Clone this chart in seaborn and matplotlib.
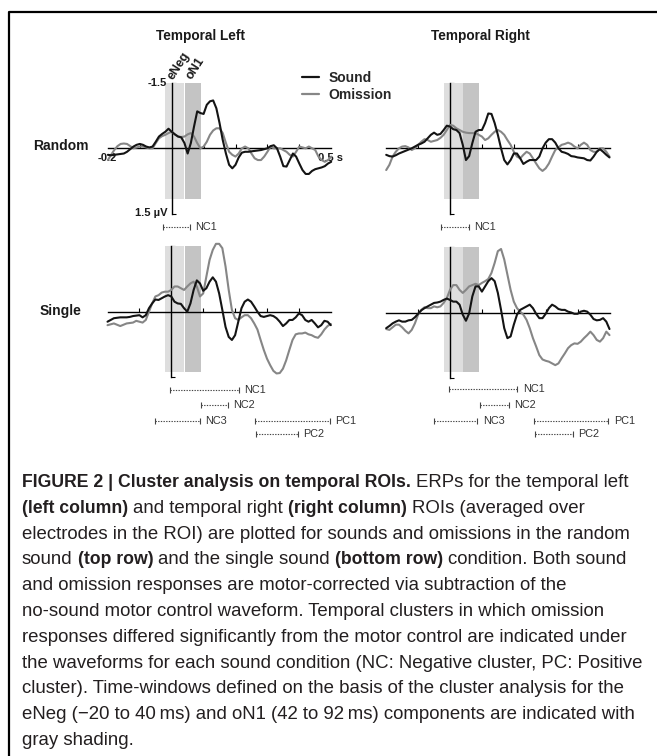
import numpy as np
import pandas as pd
import matplotlib
matplotlib.use("Agg")
import matplotlib.pyplot as plt
import seaborn as sns
from matplotlib.lines import Line2D

# ---------------- data ----------------
TIME_S = np.round(np.arange(-0.20, 0.5001, 0.01), 2)   # 71 samples, -0.2 .. 0.5 s

# Temporal Left / Random
TL_SOUND = [0.15, 0.16, 0.15, 0.14, 0.13, 0.12, 0.08, 0.02, -0.04, -0.08,
            -0.10, -0.08, -0.04, -0.02, -0.04, -0.15, -0.27, -0.33, -0.38, -0.45,
            -0.38, -0.32, -0.27, -0.25, -0.12, 0.12, -0.12, -0.50, -0.85, -0.81,
            -0.79, -1.00, -1.08, -1.10, -0.92, -0.58, -0.19, 0.12, 0.38, 0.46,
            0.38, 0.21, 0.10, 0.08, 0.08, 0.07, 0.06, 0.05, 0.04, 0.02,
            0.00, -0.05, -0.07, 0.00, 0.19, 0.41, 0.42, 0.27, 0.12, 0.19,
            0.35, 0.50, 0.59, 0.59, 0.52, 0.48, 0.46, 0.44, 0.41, 0.35, 0.31]
TL_OMIS = [0.27, 0.15, 0.04, -0.05, -0.10, -0.11, -0.10, -0.05, 0.00, -0.02,
           -0.04, -0.04, -0.02, 0.00, 0.00, -0.12, -0.23, -0.28, -0.31, -0.35,
           -0.38, -0.32, -0.27, -0.26, -0.27, -0.32, -0.35, -0.27, -0.12, 0.00,
           -0.04, -0.15, -0.31, -0.41, -0.46, -0.46, -0.35, -0.12, 0.08, 0.15,
           0.19, 0.12, 0.00, -0.04, 0.00, 0.12, 0.23, 0.27, 0.27, 0.19,
           0.08, -0.04, 0.00, 0.00, 0.00, 0.04, 0.08, 0.15, 0.19, 0.08,
           -0.04, -0.02, 0.00, -0.04, 0.00, 0.04, 0.19, 0.27, 0.31, 0.27, 0.19]
# Temporal Right / Random
TR_SOUND = [0.15, 0.18, 0.19, 0.16, 0.12, 0.09, 0.06, 0.03, 0.00, -0.04,
            -0.08, -0.11, -0.15, -0.23, -0.31, -0.36, -0.31, -0.33, -0.42, -0.52,
            -0.50, -0.44, -0.42, -0.35, -0.08, 0.27, 0.18, -0.12, -0.38, -0.42,
            -0.42, -0.58, -0.80, -0.79, -0.58, -0.31, 0.00, 0.27, 0.37, 0.27,
            0.12, 0.12, 0.23, 0.36, 0.31, 0.27, 0.27, 0.27, 0.19, 0.00,
            -0.13, -0.21, -0.21, -0.13, 0.00, 0.08, 0.10, 0.13, 0.18, 0.19,
            0.21, 0.22, 0.23, 0.27, 0.28, 0.19, 0.08, 0.02, 0.08, 0.15, 0.21]
TR_OMIS = [0.50, 0.38, 0.19, 0.08, 0.00, -0.04, -0.05, -0.02, 0.04, 0.00,
           -0.08, -0.15, -0.21, -0.19, -0.15, -0.17, -0.19, -0.24, -0.31, -0.42,
           -0.54, -0.52, -0.46, -0.42, -0.38, -0.36, -0.35, -0.35, -0.35, -0.31,
           -0.27, -0.19, -0.23, -0.31, -0.38, -0.42, -0.38, -0.31, -0.19, -0.08,
           0.08, 0.19, 0.23, 0.15, 0.08, 0.12, 0.23, 0.35, 0.46, 0.52,
           0.46, 0.35, 0.19, 0.04, -0.02, -0.08, -0.10, -0.13, -0.10, -0.04,
           0.00, -0.08, -0.13, -0.08, 0.04, 0.08, 0.08, 0.00, 0.00, 0.08, 0.19]
# Temporal Left / Single
BL_SOUND = [0.23, 0.19, 0.15, 0.14, 0.13, 0.13, 0.13, 0.12, 0.10, 0.09,
            0.08, 0.13, 0.08, -0.08, -0.19, -0.28, -0.27, -0.31, -0.35, -0.38,
            -0.35, -0.23, -0.19, -0.18, -0.08, 0.00, -0.19, -0.50, -0.72, -0.65,
            -0.48, -0.54, -0.69, -0.79, -0.69, -0.42, -0.04, 0.35, 0.58, 0.65,
            0.54, 0.23, -0.08, -0.23, -0.28, -0.23, -0.12, 0.00, 0.10, 0.12,
            0.10, 0.08, 0.10, 0.15, 0.23, 0.33, 0.27, 0.19, 0.19, 0.13,
            0.04, 0.08, 0.19, 0.23, 0.19, 0.27, 0.36, 0.31, 0.21, 0.23, 0.31]
BL_OMIS = [0.31, 0.29, 0.27, 0.30, 0.33, 0.30, 0.27, 0.26, 0.25, 0.21,
           0.23, 0.25, 0.19, 0.00, -0.19, -0.35, -0.38, -0.44, -0.46, -0.46,
           -0.50, -0.58, -0.58, -0.54, -0.50, -0.58, -0.65, -0.69, -0.58, -0.35,
           -0.42, -0.81, -1.19, -1.42, -1.56, -1.56, -1.46, -1.04, -0.50, -0.04,
           0.15, 0.19, 0.13, 0.08, 0.08, 0.15, 0.27, 0.41, 0.65, 0.88,
           1.08, 1.23, 1.36, 1.42, 1.41, 1.31, 1.12, 0.88, 0.65, 0.52,
           0.50, 0.50, 0.48, 0.52, 0.54, 0.58, 0.60, 0.52, 0.41, 0.33, 0.28]
# Temporal Right / Single
BR_SOUND = [0.36, 0.31, 0.25, 0.21, 0.18, 0.21, 0.21, 0.18, 0.17, 0.11,
            0.03, -0.05, -0.10, -0.14, -0.18, -0.22, -0.23, -0.25, -0.29, -0.32,
            -0.29, -0.25, -0.25, -0.18, 0.05, 0.19, 0.02, -0.37, -0.60, -0.60,
            -0.48, -0.60, -0.72, -0.79, -0.72, -0.45, -0.06, 0.36, 0.59, 0.55,
            0.28, 0.05, -0.06, -0.10, -0.14, -0.18, -0.10, 0.03, 0.13, 0.13,
            0.03, -0.10, -0.18, -0.14, -0.08, -0.06, -0.06, -0.02, 0.00, 0.03,
            0.03, -0.02, -0.04, -0.02, 0.05, 0.15, 0.18, 0.17, 0.13, 0.21, 0.38]
BR_OMIS = [0.38, 0.40, 0.34, 0.28, 0.28, 0.34, 0.42, 0.48, 0.40, 0.25,
           0.05, -0.06, -0.12, -0.10, -0.10, -0.14, -0.12, -0.14, -0.22, -0.33,
           -0.52, -0.63, -0.63, -0.52, -0.45, -0.52, -0.60, -0.63, -0.66, -0.63,
           -0.68, -0.72, -0.77, -0.91, -1.14, -1.41, -1.46, -1.22, -0.87, -0.52,
           -0.25, -0.10, -0.02, 0.05, 0.17, 0.36, 0.59, 0.78, 0.98, 1.08,
           1.11, 1.13, 1.17, 1.21, 1.17, 1.05, 0.94, 0.82, 0.75, 0.71,
           0.72, 0.67, 0.59, 0.52, 0.44, 0.52, 0.63, 0.67, 0.59, 0.44, 0.52]

# shaded component windows (s)
WINDOW_NAMES = ["eNeg", "oN1"]
WINDOW_START = [-0.020, 0.042]
WINDOW_END = [0.040, 0.092]

# clusters: name, start (s), end (s), row
TOP_CL_NAMES = ["NC1"]
TOP_CL_START = [-0.028]
TOP_CL_END = [0.058]
TOP_CL_ROW = [0]
BOT_L_CL_NAMES = ["NC1", "NC2", "NC3", "PC1", "PC2"]
BOT_L_CL_START = [-0.005, 0.092, -0.052, 0.261, 0.266]
BOT_L_CL_END = [0.212, 0.177, 0.089, 0.497, 0.397]
BOT_R_CL_START = [-0.002, 0.094, -0.050, 0.263, 0.268]
BOT_R_CL_END = [0.211, 0.185, 0.086, 0.496, 0.386]
BOT_CL_ROW = [0, 1, 2, 2, 3]

COLUMN_TITLES = ["Temporal Left", "Temporal Right"]
ROW_TITLES = ["Random", "Single"]
CONDITIONS = ["Sound", "Omission"]

# ---------------- style ----------------
sns.set_theme(style="white")
plt.rcParams['font.family'] = ['Liberation Sans', 'DejaVu Sans']
plt.rcParams['axes.edgecolor'] = 'black'

W, H = 657, 756
fig = plt.figure(figsize=(W / 100, H / 100), dpi=100)
fig.patch.set_facecolor('white')

PX_S = 319.0     # pixels per second
PX_UV = 43.5     # pixels per microvolt
XLIM = (-0.25, 0.55)
YLIM = (-2.2, 3.2)

COLORS = {"Sound": "#141414", "Omission": "#868686"}
TXT = "#1a1a1a"


def make_ax(x0, y0):
    left = x0 + XLIM[0] * PX_S
    width = (XLIM[1] - XLIM[0]) * PX_S
    top = y0 + YLIM[0] * PX_UV
    height = (YLIM[1] - YLIM[0]) * PX_UV
    ax = fig.add_axes([left / W, 1 - (top + height) / H, width / W, height / H])
    ax.set_xlim(*XLIM)
    ax.set_ylim(YLIM[1], YLIM[0])
    ax.patch.set_alpha(0)
    for s in ("top", "right"):
        ax.spines[s].set_visible(False)
    ax.spines["left"].set_position(("data", 0))
    ax.spines["bottom"].set_position(("data", 0))
    ax.spines["left"].set_bounds(-1.5, 1.5)
    ax.spines["bottom"].set_bounds(-0.2, 0.5)
    for s in ("left", "bottom"):
        ax.spines[s].set_linewidth(1.0)
        ax.spines[s].set_color("black")
        ax.spines[s].set_zorder(3)
    ax.set_xticks([-0.1, 0.1, 0.2, 0.3, 0.4])
    ax.set_yticks([-1.5, -1.0, -0.5, 0.5, 1.0, 1.5])
    ax.tick_params(bottom=True, left=True, direction="in", length=3, width=0.8,
                   colors="black", labelleft=False, labelbottom=False)
    ax.set_xlabel("")
    ax.set_ylabel("")
    ax.grid(False)
    return ax


panels = [
    dict(x0=171.7, y0=148.3, s=TL_SOUND, o=TL_OMIS, shade_bottom=1.17,
         cl=(TOP_CL_NAMES, TOP_CL_START, TOP_CL_END, TOP_CL_ROW), rows=[1.81]),
    dict(x0=450.0, y0=148.3, s=TR_SOUND, o=TR_OMIS, shade_bottom=1.17,
         cl=(TOP_CL_NAMES, TOP_CL_START, TOP_CL_END, TOP_CL_ROW), rows=[1.81]),
    dict(x0=171.3, y0=311.7, s=BL_SOUND, o=BL_OMIS, shade_bottom=1.38,
         cl=(BOT_L_CL_NAMES, BOT_L_CL_START, BOT_L_CL_END, BOT_CL_ROW),
         rows=[1.79, 2.14, 2.52, 2.81]),
    dict(x0=450.0, y0=312.5, s=BR_SOUND, o=BR_OMIS, shade_bottom=1.36,
         cl=(BOT_L_CL_NAMES, BOT_R_CL_START, BOT_R_CL_END, BOT_CL_ROW),
         rows=[1.77, 2.13, 2.50, 2.79]),
]

shade_colors = ["#dedede", "#c4c4c4"]
axes = []
for p in panels:
    ax = make_ax(p["x0"], p["y0"])
    axes.append(ax)
    for ws, we, c in zip(WINDOW_START, WINDOW_END, shade_colors):
        ax.fill_between([ws, we], -1.5, p["shade_bottom"], color=c, lw=0, zorder=1)
    df = pd.DataFrame({
        "t": np.concatenate([TIME_S, TIME_S]),
        "v": np.concatenate([p["o"], p["s"]]),
        "cond": ["Omission"] * len(TIME_S) + ["Sound"] * len(TIME_S),
    })
    sns.lineplot(data=df, x="t", y="v", hue="cond", hue_order=["Omission", "Sound"],
                 palette=COLORS, estimator=None, sort=True, legend=False,
                 linewidth=1.5, ax=ax, zorder=4)
    for ln in ax.lines:
        ln.set_clip_on(False)
        ln.set_solid_capstyle("round")
        ln.set_solid_joinstyle("round")
    ax.set_xlabel("")
    ax.set_ylabel("")
    names, starts, ends, rws = p["cl"]
    for nm, cs, ce, r in zip(names, starts, ends, rws):
        yy = p["rows"][r]
        ax.plot([cs, ce], [yy, yy], ls=(0, (1.2, 1.2)), lw=0.8, color="#444444",
                clip_on=False, zorder=4)
        ax.plot([cs, ce], [yy, yy], ls="none", marker="|", ms=4.5, mew=0.8,
                color="#444444", clip_on=False, zorder=4)
        ax.text(ce + 0.017, yy, nm, fontsize=7.8, color="#333333", ha="left",
                va="center", clip_on=False)

# labels on the top-left panel
ax = axes[0]
bold8 = dict(fontsize=8, fontweight="bold", color=TXT)
ax.text(-0.014, -1.49, "-1.5", ha="right", va="center", **bold8)
ax.text(-0.012, 1.49, "1.5 \u00b5V", ha="right", va="center", **bold8)
ax.text(-0.203, 0.23, "-0.2", ha="center", va="center", **bold8)
ax.text(0.458, 0.22, "0.5 s", ha="left", va="center", **bold8)
for nm, ws, we in zip(WINDOW_NAMES, WINDOW_START, WINDOW_END):
    ax.text((ws + we) / 2 - 0.006, -1.56, nm, rotation=57, rotation_mode="anchor",
            ha="left", va="baseline", fontsize=9, fontweight="bold", color=TXT)

handles = [Line2D([], [], color=COLORS[c], lw=1.6) for c in CONDITIONS]
ax.legend(handles, CONDITIONS, loc="upper left", bbox_to_anchor=(302 / W, 1 - 71 / H),
          bbox_transform=fig.transFigure, frameon=False, borderpad=0, borderaxespad=0,
          handlelength=1.2, handletextpad=0.7, labelspacing=0.22,
          prop={"weight": "bold", "size": 10})

# titles
fig.text(201 / W, 1 - 36 / H, COLUMN_TITLES[0], ha="center", va="center",
         fontsize=9.8, fontweight="bold", color=TXT)
fig.text(480 / W, 1 - 36 / H, COLUMN_TITLES[1], ha="center", va="center",
         fontsize=9.8, fontweight="bold", color=TXT)
fig.text(60.5 / W, 1 - 146 / H, ROW_TITLES[0], ha="center", va="center",
         fontsize=10, fontweight="bold", color=TXT)
fig.text(60.5 / W, 1 - 311 / H, ROW_TITLES[1], ha="center", va="center",
         fontsize=10, fontweight="bold", color=TXT)

# frame
fig.add_artist(Line2D([9 / W, 9 / W, 1.0], [0.0, 1 - 12 / H, 1 - 12 / H],
                      transform=fig.transFigure, color="black", lw=1.6))

# caption
CAPTION = [
    [("FIGURE 2 | Cluster analysis on temporal ROIs.", True), (" ERPs for the temporal left", False)],
    [("(left column)", True), (" and temporal right ", False), ("(right column)", True), (" ROIs (averaged over", False)],
    [("electrodes in the ROI) are plotted for sounds and omissions in the random", False)],
    [("sound ", False), ("(top row)", True), (" and the single sound ", False), ("(bottom row)", True), (" condition. Both sound", False)],
    [("and omission responses are motor-corrected via subtraction of the", False)],
    [("no-sound motor control waveform. Temporal clusters in which omission", False)],
    [("responses differed significantly from the motor control are indicated under", False)],
    [("the waveforms for each sound condition (NC: Negative cluster, PC: Positive", False)],
    [("cluster). Time-windows defined on the basis of the cluster analysis for the", False)],
    [("eNeg (\u221220 to 40\u2009ms) and oN1 (42 to 92\u2009ms) components are indicated with", False)],
    [("gray shading.", False)],
]
CAP_FS = {False: 13.4, True: 12.7}
CAP_X = 22
CAP_Y0 = 487
CAP_DY = 25.8
renderer = fig.canvas.get_renderer()


def txt_width(s, bold):
    t = fig.text(0, 0, s, fontsize=CAP_FS[bold], fontweight="bold" if bold else "normal")
    w = t.get_window_extent(renderer).width
    t.remove()
    return w


space_w = {b: txt_width("x x", b) - txt_width("xx", b) for b in (False, True)}

for i, line in enumerate(CAPTION):
    x = CAP_X
    y = CAP_Y0 + i * CAP_DY
    for seg, bold in line:
        lead = len(seg) - len(seg.lstrip(" "))
        trail = len(seg) - len(seg.rstrip(" "))
        core = seg.strip(" ")
        x += lead * space_w[bold]
        t = fig.text(x / W, 1 - y / H, core, fontsize=CAP_FS[bold],
                     fontweight="bold" if bold else "normal", ha="left", va="baseline",
                     color="#231f20")
        x += t.get_window_extent(renderer).width
        x += trail * space_w[bold]

fig.savefig("out.png", dpi=100, facecolor="white")
